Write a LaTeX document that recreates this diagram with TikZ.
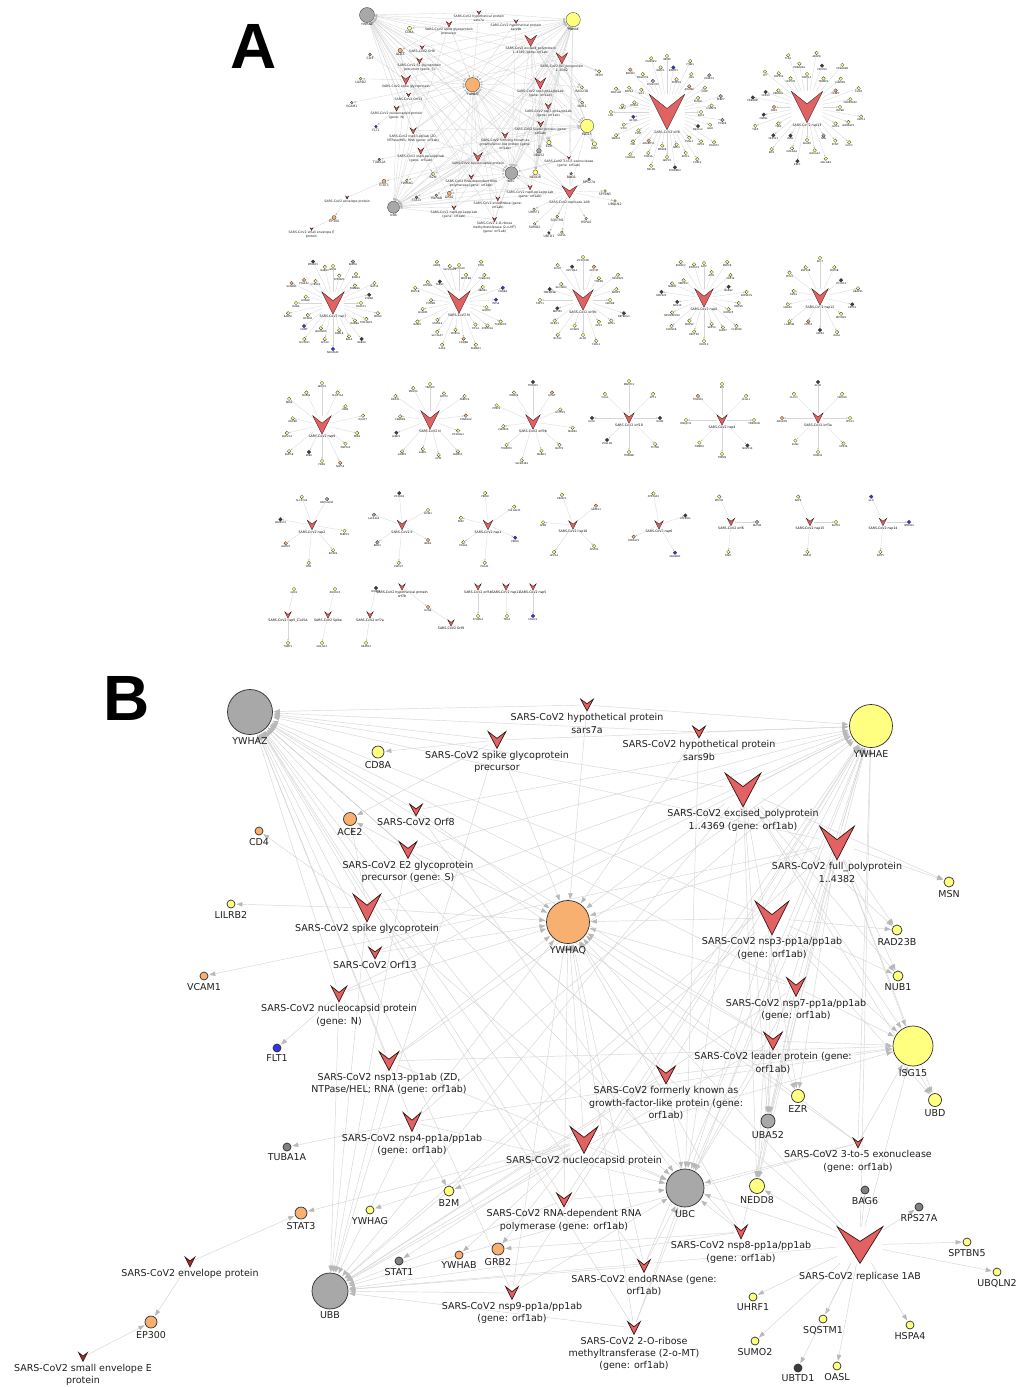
\documentclass[tikz,border=0pt]{standalone}
\usepackage{fontspec}
\setmainfont{DejaVu Sans}
\newfontfamily\letfont{Liberation Sans}
\usetikzlibrary{arrows.meta}
\pgfdeclarelayer{bgl}
\pgfdeclarelayer{edges}
\pgfsetlayers{bgl,edges,main}
\definecolor{vred}{HTML}{E06262}
\definecolor{vdred}{HTML}{B02828}
\definecolor{vline}{HTML}{3C1212}
\definecolor{nline}{HTML}{2E2E2E}
\definecolor{cy}{HTML}{FFFF80}
\definecolor{co}{HTML}{F8B070}
\definecolor{cg}{HTML}{A8A8A8}
\definecolor{cd}{HTML}{808080}
\definecolor{ck}{HTML}{3C3C3C}
\definecolor{cb}{HTML}{3333EE}
\definecolor{ecol}{HTML}{D6D6D6}
\definecolor{acol}{HTML}{B8B8B8}
\newcommand\lfont{\fontsize{9.5}{12.3}\selectfont}

\makeatletter
\pgfdeclareshape{vee}{%
  \inheritsavedanchors[from=rectangle]%
  \inheritanchorborder[from=rectangle]%
  \inheritanchor[from=rectangle]{center}%
  \inheritanchor[from=rectangle]{north}%
  \inheritanchor[from=rectangle]{south}%
  \inheritanchor[from=rectangle]{east}%
  \inheritanchor[from=rectangle]{west}%
  \inheritanchor[from=rectangle]{text}%
  \inheritanchor[from=rectangle]{base}%
  \inheritanchor[from=rectangle]{mid}%
  \backgroundpath{%
    \southwest \edef\veexa{\the\pgf@x}\edef\veeya{\the\pgf@y}%
    \northeast \edef\veexb{\the\pgf@x}\edef\veeyb{\the\pgf@y}%
    \pgfpathmoveto{\pgfpoint{\veexa}{\veeyb}}%
    \pgfpathlineto{\pgfpoint{0.5*(\veexa)+0.5*(\veexb)}{0.6*(\veeyb)+0.4*(\veeya)}}%
    \pgfpathlineto{\pgfpoint{\veexb}{\veeyb}}%
    \pgfpathlineto{\pgfpoint{0.5*(\veexa)+0.5*(\veexb)}{\veeya}}%
    \pgfpathclose}%
}
\makeatother

\tikzset{
  hum/.style={circle, draw=nline, line width=0.7pt, inner sep=0pt},
  vir/.style={shape=vee, draw=vline, line width=0.7pt, inner sep=0pt},
  lb/.style={font=\lfont, inner sep=1pt, label distance=1.5pt, align=center, text=black!88},
  lnk/.style={draw=ecol, line width=0.45pt, -{Triangle[length=6pt,width=4.4pt,color=acol]}, shorten >=1pt},
  cv/.style={shape=vee, fill=vred, draw=vline, line width=0.35pt, inner sep=0pt},
  clb/.style={font=\fontsize{3.2}{3.8}\selectfont, inner sep=0.3pt, label distance=0.5pt, align=center},
  satn/.style={circle, draw=nline, line width=0.25pt, inner sep=0pt, minimum size=3.6pt},
  slb/.style={font=\fontsize{2.5}{3}\selectfont, inner sep=0.2pt, label distance=0.2pt},
  slnk/.style={draw=ecol, line width=0.3pt, -{Triangle[length=1.6pt,width=1.2pt,color=acol]}},
}

% human node: name, x, y, diameter, colour, label
\newcommand\hn[6]{\node[hum,fill=#5,minimum size=#4pt,label={[lb]below:#6}] (#1) at (#2,#3) {};}
% viral node: name, x, y, width, height, colour, label
\newcommand\vn[7]{\node[vir,fill=#6,minimum width=#4pt,minimum height=#5pt,label={[lb]below:{#7}}] (#1) at (#2,#3) {};}

\newcommand\netB{%
\hn{YWHAZ}{250}{712}{45}{cg}{YWHAZ}
\hn{YWHAE}{871}{726}{43}{cy}{YWHAE}
\hn{YWHAQ}{568}{922}{43}{co}{YWHAQ}
\hn{ISG15}{913}{1046}{40}{cy}{ISG15}
\hn{UBC}{685}{1188}{38}{cg}{UBC}
\hn{UBB}{330}{1291}{36}{cg}{UBB}
\hn{CD8A}{378}{752}{12}{cy}{CD8A}
\hn{ACE2}{350}{819}{13}{co}{ACE2}
\hn{CD4}{259}{831}{8}{co}{CD4}
\hn{MSN}{949}{882}{10}{cy}{MSN}
\hn{LILRB2}{231}{904}{8}{cy}{LILRB2}
\hn{VCAM1}{204}{976}{8}{co}{VCAM1}
\hn{FLT1}{277}{1048}{8}{cb}{FLT1}
\hn{RAD23B}{897}{930}{10}{cy}{RAD23B}
\hn{NUB1}{898}{976}{10}{cy}{NUB1}
\hn{EZR}{798}{1096}{13}{cy}{EZR}
\hn{UBD}{935}{1100}{13}{cy}{UBD}
\hn{TUBA1A}{287}{1147}{8}{cd}{TUBA1A}
\hn{B2M}{449}{1191}{10}{cy}{B2M}
\hn{STAT3}{301}{1213}{12}{co}{STAT3}
\hn{YWHAG}{370}{1210}{8}{cy}{YWHAG}
\hn{STAT1}{399}{1261}{8}{cd}{STAT1}
\hn{YWHAB}{459}{1255}{8}{co}{YWHAB}
\hn{GRB2}{498}{1249}{12}{co}{GRB2}
\hn{EP300}{151}{1322}{12}{co}{EP300}
\hn{UBA52}{768}{1121}{14}{cg}{UBA52}
\hn{NEDD8}{757}{1186}{15}{cy}{NEDD8}
\hn{BAG6}{865}{1190}{8}{cd}{BAG6}
\hn{RPS27A}{919}{1207}{8}{cd}{RPS27A}
\hn{SPTBN5}{967}{1242}{8}{cy}{SPTBN5}
\hn{UBQLN2}{997}{1272}{8}{cy}{UBQLN2}
\hn{UHRF1}{753}{1297}{8}{cy}{UHRF1}
\hn{SQSTM1}{823}{1319}{8}{cy}{SQSTM1}
\hn{HSPA4}{910}{1325}{8}{cy}{HSPA4}
\hn{SUMO2}{755}{1341}{8}{cy}{SUMO2}
\hn{UBTD1}{798}{1368}{8}{ck}{UBTD1}
\hn{OASL}{837}{1366}{8}{cy}{OASL}
%
\vn{v7a}{587}{705}{12}{11}{vred}{SARS-CoV2 hypothetical protein\\sars7a}
\vn{v9b}{699}{732}{12}{11}{vred}{SARS-CoV2 hypothetical protein\\sars9b}
\vn{vspp}{497}{740}{17}{16}{vred}{SARS-CoV2 spike glycoprotein\\precursor}
\vn{vorf8}{416}{810}{12}{11}{vred}{SARS-CoV2 Orf8}
\vn{ve2}{408}{850}{17}{16}{vred}{SARS-CoV2 E2 glycoprotein\\precursor (gene: S)}
\vn{vexc}{743}{790}{35}{33}{vred}{SARS-CoV2 excised\_polyprotein\\1..4369 (gene: orf1ab)}
\vn{vfull}{837}{843}{34}{33}{vred}{SARS-CoV2 full\_polyprotein\\1..4382}
\vn{vspike}{367}{908}{27}{27}{vred}{SARS-CoV2 spike glycoprotein}
\vn{vnsp3}{772}{918}{33}{33}{vred}{SARS-CoV2 nsp3-pp1a/pp1ab\\(gene: orf1ab)}
\vn{vorf13}{375}{953}{12}{11}{vred}{SARS-CoV2 Orf13}
\vn{vnN}{339}{994}{15}{15}{vred}{SARS-CoV2 nucleocapsid protein\\(gene: N)}
\vn{vnsp7}{796}{987}{18}{18}{vred}{SARS-CoV2 nsp7-pp1a/pp1ab\\(gene: orf1ab)}
\vn{vlead}{773}{1041}{18}{17}{vred}{SARS-CoV2 leader protein (gene:\\orf1ab)}
\vn{vnsp13}{389}{1061}{19}{18}{vred}{SARS-CoV2 nsp13-pp1ab (ZD,\\NTPase/HEL; RNA (gene: orf1ab)}
\vn{vform}{666}{1075}{18}{17}{vred}{SARS-CoV2 formerly known as\\growth-factor-like protein (gene:\\orf1ab)}
\vn{vnsp4}{412}{1122}{17}{18}{vred}{SARS-CoV2 nsp4-pp1a/pp1ab\\(gene: orf1ab)}
\vn{vnuc}{584}{1140}{27}{26}{vred}{SARS-CoV2 nucleocapsid protein}
\vn{vexo}{858}{1143}{9}{9}{vred}{SARS-CoV2 3-to-5 exonuclease\\(gene: orf1ab)}
\vn{vrdrp}{564}{1200}{14}{13}{vred}{SARS-CoV2 RNA-dependent RNA\\polymerase (gene: orf1ab)}
\vn{vnsp8}{741}{1232}{12}{13}{vred}{SARS-CoV2 nsp8-pp1a/pp1ab\\(gene: orf1ab)}
\node[vir,fill=vred,minimum width=45pt,minimum height=36pt,label={[lb,label distance=8pt]below:SARS-CoV2 replicase 1AB}] (vrep) at (860,1245) {};
\vn{venv}{190}{1262}{9}{9}{vdred}{SARS-CoV2 envelope protein}
\vn{vendo}{644}{1266}{12}{12}{vred}{SARS-CoV2 endoRNAse (gene:\\orf1ab)}
\vn{vnsp9}{512}{1293}{12}{12}{vred}{SARS-CoV2 nsp9-pp1a/pp1ab\\(gene: orf1ab)}
\vn{vomt}{634}{1328}{12}{12}{vred}{SARS-CoV2 2-O-ribose\\methyltransferase (2-o-MT)\\(gene: orf1ab)}
\vn{vsenv}{83}{1357}{8}{8}{vdred}{SARS-CoV2 small envelope E\\protein}
%
\begin{pgfonlayer}{edges}
\foreach \sr in {vexc,vfull,vnsp3,vnsp7,vlead,vform,vnsp13,vnsp4,vnuc,vexo,vrdrp,vnsp8,vrep,vendo,vnsp9,vomt}
  \foreach \tg in {YWHAZ,YWHAE,YWHAQ,UBC,UBB} {\draw[lnk] (\sr) -- (\tg);}
\foreach \sr in {vexc,vfull,vnsp3,vnsp7,vlead,vform,vnuc,vexo,vrep,vnsp13,vnsp4}
  {\draw[lnk] (\sr) -- (ISG15);}
\foreach \sr in {v7a,v9b,vspp,vorf8,ve2,vspike,vorf13,vnN}
  \foreach \tg in {YWHAZ,YWHAE,YWHAQ} {\draw[lnk] (\sr) -- (\tg);}
\foreach \sr/\tg in {v9b/UBC, vspp/UBB, vorf8/UBC, ve2/UBB, vspike/UBC, vspike/UBB, vnN/UBB,
  vspp/CD8A, vspp/ACE2, ve2/ACE2, vspike/ACE2, vspike/LILRB2, vspike/CD4,
  vfull/VCAM1, vnN/FLT1, vnsp4/TUBA1A, vnsp4/B2M, vnuc/STAT3, vnuc/YWHAG, vnuc/B2M, vnuc/STAT1,
  vnuc/YWHAB, vnuc/GRB2, vnsp8/GRB2, venv/STAT3, venv/EP300, vsenv/EP300,
  vexc/MSN, vexc/RAD23B, vexc/NUB1, vexc/EZR, vexc/UBD, vexc/UBA52, vexc/NEDD8,
  vfull/MSN, vfull/RAD23B, vfull/NUB1, vfull/EZR, vfull/UBD, vfull/UBA52, vfull/NEDD8,
  vnsp3/RAD23B, vnsp3/NUB1, vnsp3/UBD, vnsp3/UBA52, vnsp3/NEDD8, vnsp7/UBA52, vnsp7/NEDD8,
  vlead/UBA52, vlead/NEDD8, vlead/EZR, vrep/NEDD8, vrep/BAG6, vrep/RPS27A, vrep/SPTBN5,
  vrep/UBQLN2, vrep/UHRF1, vrep/SQSTM1, vrep/HSPA4, vrep/SUMO2, vrep/UBTD1, vrep/OASL}
  {\draw[lnk] (\sr) -- (\tg);}
\end{pgfonlayer}
}

% small clusters of panel A
\newcommand\cen[5]{\node[cv,minimum width=#4pt,minimum height=#4pt,label={[clb]below:{#5}}] (#1) at (#2,#3) {};}
\newcommand\sat[6]{% centre, angle, radius, colour letter, label, id
  \node[satn,fill=c#4,label={[slb]below:#5}] (#1-#6) at ([shift={({#3*cos(#2)},{-#3*sin(#2)})}]#1.center) {};
  \draw[slnk] (#1) -- (#1-#6);}
\newcommand\satxy[6]{% centre, id, colour letter, x, y, label
  \node[satn,fill=c#3,label={[slb]below:#6}] (#1-#2) at (#4,#5) {};
  \draw[slnk] (#1) -- (#1-#2);}
\newcommand\starc[5]{% centre, r0, dr, start angle, list
  \foreach \g/\gcol [count=\i] in {#5} {\xdef\nsat{\i}}
  \foreach \g/\gcol [count=\i] in {#5} {%
    \pgfmathsetmacro\ang{#4+360*\i/\nsat}%
    \pgfmathsetmacro\rad{#2+#3*mod(\i,3)}%
    \sat{#1}{\ang}{\rad}{\gcol}{\g}{\i}}}

\begin{document}
\begin{tikzpicture}[x=1pt,y=-1pt]
\useasboundingbox (0,0) rectangle (1017,1387);
\begin{pgfonlayer}{bgl}\fill[white] (0,0) rectangle (1017,1387);\end{pgfonlayer}

% panel letters
\node[font=\letfont\bfseries\fontsize{64}{64}\selectfont, inner sep=0pt, anchor=base] (LA) at (254,68) {A};
\node[font=\letfont\bfseries\fontsize{64}{64}\selectfont, inner sep=0pt, anchor=base] (LB) at (127,720) {B};

% panel A: main component (same network, reduced)
\begin{scope}[name prefix=A-, xshift=284pt, yshift=221.4pt, scale=0.332,
  every node/.append style={transform shape},
  hum/.append style={line width=0.3pt}, vir/.append style={line width=0.3pt},
  lnk/.style={draw=ecol, line width=0.3pt, -{Triangle[length=2.2pt,width=1.6pt,color=acol]}, shorten >=0.5pt}]
\netB
\end{scope}

% panel A: other components
\cen{corf8}{667}{112}{35}{SARS-CoV2 orf8}
\starc{corf8}{34}{11}{90}{NGLY1/y,PLEKHF2/y,POGLUT3/g,POGLUT2/y,EDEM3/o,SIL1/y,ERP44/y,ERO1LB/y,HYOU1/y,SDF2/y,LOX/y,IL17RA/b,STC2/y,SMOC1/y,PLAT/y,PVR/y,COL6A1/y,ADAMTS1/o,TOR1A/y,FBLN5/y,MFGE8/y,GDF15/y,FOXRED2/k,NEU1/y,EMC1/y,CHPF2/y,PUSL1/y,NPC2/y,HS2ST1/y,FBXL12/k,GGH/y,PCSK6/g,PLD3/y,HS6ST2/y,FKBP7/g,PLOD2/y,CHPF/y,ERLEC1/g,ADAM9/o,OS9/y,ITGB1/y,FKBP10/y,DNMT1/b,INHBE/y}
\cen{cnsp13}{807}{107}{31}{SARS-CoV2 nsp13}
\starc{cnsp13}{33}{11}{90}{PRKAR2A/y,TLE1/y,CEP135/y,CEP350/y,CIT/y,PRKACA/y,CEP43/k,PDE4DIP/k,TBK1/o,CNTRL/k,TLE5/y,TLE3/y,CEP112/k,RDX/y,NINL/k,GOLGA2/y,ERC1/k,AKAP9/y,GOLGA3/y,GOLGB1/y,NIN/g,PCNT/y,GCC2/y,GCC1/y,GORASP1/y,USP13/y,CEP68/y,CDK5RAP2/y,CLIP4/y,CENPF/o,JAKMIP1/y,PRKAR2B/y,TBKBP1/y,CEP250/k,AKAP8/y,MIPOL1/y}

\cen{cnsp7}{333}{303}{22}{SARS-CoV2 nsp7}
\starc{cnsp7}{28}{9}{90}{RAB10/y,MTARC1/k,CYB5R3/y,PTGES2/o,SCARB1/o,LMAN2/y,RHOA/y,RAB5C/y,DCAKD/y,COMT/b,SCCPDH/y,SELENOS/y,ACSL3/y,NDUFAF2/b,RAB18/y,RALA/y,RAB2A/k,RAB8A/y,TOR1AIP1/y,MOGS/y,HS2ST1/y,CYB5B/k,NAT14/y,FAM98A/y,RAB14/y,RAB7A/g,ATP6AP1/y,GNB1/y}
\cen{cM}{459}{302}{22}{SARS-CoV2 M}
\starc{cM}{28}{9}{90}{SLC25A21/y,ANO6/y,TARS2/k,ATP1B1/y,PMPCB/y,PITRM1/y,ACADM/y,BZW2/y,STOML2/y,SLC30A7/y,AASS/y,PMPCA/y,COQ8B/o,FAM8A1/y,YIF1A/y,ATP6V1A/y,TUBGCP3/y,GHITM/y,INTS4/b,COQ8A/b,RBM41/y,TUBGCP2/y,ETFA/y,NDUFB9/y,SLC30A9/y}
\cen{corf9c}{583}{300}{20}{SARS-CoV2 orf9c}
\starc{corf9c}{27}{8}{90}{DPY19L1/k,ECSIT/y,SLC30A9/y,TMEM39B/k,TAPT1/y,NDFIP2/k,NLRX1/y,BCS1L/y,ACAD9/y,ALG5/y,F2RL1/y,GPX1/y,WFS1/y,RETREG3/k,UBXN8/y,ERMP1/y,NDUFAF1/y,TMED5/y,GHITM/o,ZC3H12B/y}
\cen{cnsp8}{704}{298}{18}{SARS-CoV2 nsp8}
\starc{cnsp8}{27}{8}{90}{EXOSC3/y,EXOSC2/y,MRPS27/y,NGDN/y,MRPS25/k,NOL10/k,MPHOSPH10/y,EXOSC8/y,MRPS2/y,HECTD1/y,DDX10/y,SRP54/y,LARP7/y,CCDC86/y,EXOSC5/y,MRPS5/y,SEPSECS/y,NARS2/k,SRP19/y,MEPCE/y,ATE1/y,AATF/y}
\cen{cnsp12}{820}{297}{16}{SARS-CoV2 nsp12}
\starc{cnsp12}{27}{6}{90}{ZNF318/y,PPIL3/y,RIPK1/y,UBAP2/y,LARP4B/y,CRTC3/o,USP54/k,RALA/y,MYCBP2/y,CRTC2/k,UBAP2L/y,ZC3H7A/k,PDE4B/y,SLU7/y}

\cen{cnsp9}{322}{425}{18}{SARS-CoV2 nsp9}
\starc{cnsp9}{30}{6}{90}{NUP62/y,NEK9/y,NUP88/y,NUP214/y,NUP58/y,MIB1/k,FBN1/y,NUP54/o,ZNF503/y,FBN2/y,DCAF7/y,MIB2/y,SLC27A4/y,GDF15/y}
\cen{cN}{430}{420}{18}{SARS-CoV2 N}
\starc{cN}{30}{6}{90}{MOV10/y,DDX21/y,CSNK2B/y,G3BP1/k,G3BP2/y,LARP1/y,UPF1/y,PABPC1/y,ZC3HAV1/y,CSNK2A2/o,PABPC4/y,SRP72/y,TRIM25/y}
\cen{corf9b}{533}{422}{14}{SARS-CoV2 orf9b}
\starc{corf9b}{30}{5}{90}{MARK2/y,PTBP2/y,CHMP2A/y,TOMM70/y,SLC9A3R1/y,MARK3/y,NUTF2/y,MARK1/y,DCTPP1/y,ECSIT/o,TIMM10/k}
\cen{corf10}{629}{418}{10}{SARS-CoV2 orf10}
\starc{corf10}{31}{3}{90}{CUL2/y,ELOC/k,ZYG11B/k,TIMM8B/y,THTPA/y,ELOB/k,PPT1/y,MAP7D1/y}
\cen{cnsp4}{722}{420}{10}{SARS-CoV2 nsp4}
\starc{cnsp4}{32}{2}{90}{TIMM29/o,DNAJC11/y,TIMM10/y,TIMM9/y,NUP210/k,TIMM10B/y,ALG11/y,IDE/y}
\cen{corf3a}{818}{418}{10}{SARS-CoV2 orf3a}
\starc{corf3a}{32}{2}{90}{CLCC1/y,ARL6IP6/o,SUN2/y,HMOX1/y,VPS39/y,VPS11/y,TRIM59/y,ALG5/k}

\cen{cnsp2}{312}{525}{9}{SARS-CoV2 nsp2}
\sat{cnsp2}{110}{30}{y}{SLC27A2}{1}\sat{cnsp2}{60}{30}{g}{RAP1GDS1}{2}\sat{cnsp2}{170}{32}{k}{WASHC4}{3}
\sat{cnsp2}{-10}{33}{y}{FKBP15}{4}\sat{cnsp2}{215}{32}{o}{GIGYF2}{5}\sat{cnsp2}{-50}{33}{y}{EIF4E2}{6}\sat{cnsp2}{265}{38}{y}{POR}{7}
\cen{cE}{402}{525}{9}{SARS-CoV2 E}
\sat{cE}{95}{32}{k}{ZC3H18}{1}\sat{cE}{30}{30}{y}{AP3B1}{2}\sat{cE}{160}{30}{g}{SLC44A2}{3}
\sat{cE}{-30}{30}{o}{BRD4}{4}\sat{cE}{215}{30}{g}{BRD2}{5}\sat{cE}{265}{38}{y}{CWC27}{6}
\cen{cnsp1}{488}{525}{9}{SARS-CoV2 nsp1}
\sat{cnsp1}{95}{32}{y}{PRIM2}{1}\sat{cnsp1}{35}{32}{y}{COLGALT1}{2}\sat{cnsp1}{165}{28}{y}{PKP2}{3}
\sat{cnsp1}{-25}{30}{b}{PRIM1}{4}\sat{cnsp1}{215}{30}{y}{POLA2}{5}\sat{cnsp1}{265}{38}{y}{POLA1}{6}
\cen{cnsp10}{573}{525}{8}{SARS-CoV2 nsp10}
\sat{cnsp10}{110}{32}{y}{ERGIC1}{1}\sat{cnsp10}{40}{30}{o}{GRPEL1}{2}\sat{cnsp10}{175}{30}{y}{GFER}{3}
\sat{cnsp10}{235}{33}{y}{AP2A2}{4}\sat{cnsp10}{-45}{30}{y}{AP2M1}{5}
\cen{cnsp6}{659}{525}{8}{SARS-CoV2 nsp6}
\sat{cnsp6}{100}{32}{y}{ATP13A3}{1}\sat{cnsp6}{20}{28}{k}{ATP5MG}{2}\sat{cnsp6}{205}{28}{o}{ATP6AP1}{3}\sat{cnsp6}{-60}{32}{b}{SIGMAR1}{4}
\cen{corf6}{731}{522}{7}{SARS-CoV2 orf6}
\sat{corf6}{115}{28}{y}{MTCH1}{1}\sat{corf6}{0}{26}{g}{NUP98}{2}\sat{corf6}{265}{30}{y}{RAE1}{3}
\cen{cnsp15}{810}{522}{7}{SARS-CoV2 nsp15}
\sat{cnsp15}{115}{28}{y}{ARF6}{1}\sat{cnsp15}{0}{26}{y}{NUTF2}{2}\sat{cnsp15}{265}{30}{y}{RNF41}{3}
\cen{cnsp14}{883}{522}{7}{SARS-CoV2 nsp14}
\sat{cnsp14}{115}{28}{b}{GLA}{1}\sat{cnsp14}{0}{26}{b}{IMPDH2}{2}\sat{cnsp14}{265}{30}{y}{SIRT5}{3}

\cen{r51}{288}{615}{6}{SARS-CoV2 nsp5\_C145A}
\satxy{r51}{1}{y}{294}{589}{GPX1}\satxy{r51}{2}{y}{288}{643}{TRMT1}
\cen{rsp}{328}{615}{6}{SARS-CoV2 Spike}
\satxy{rsp}{1}{y}{335}{589}{ZDHHC5}\satxy{rsp}{2}{y}{322}{643}{GOLGA7}
\cen{r7a}{370}{615}{6}{SARS-CoV2 orf7a}
\satxy{r7a}{1}{k}{376}{588}{HMOX1}\satxy{r7a}{2}{y}{366}{643}{HEATR3}
\cen{r7b}{402}{587}{6}{SARS-CoV2 hypothetical protein\\orf7b}
\satxy{r7b}{1}{o}{428}{607}{HCN4}
\cen{r9}{451}{623}{6}{SARS-CoV2 Orf9}
\draw[slnk] (r9) -- (r7b-1);
\cen{r3b}{478}{587}{6}{SARS-CoV2 orf3b}
\satxy{r3b}{1}{y}{478}{616}{STOML2}
\cen{r11}{506}{587}{6}{SARS-CoV2 nsp11}
\satxy{r11}{1}{y}{507}{616}{TBCA}
\cen{r5}{533}{587}{6}{SARS-CoV2 nsp5}
\satxy{r5}{1}{b}{533}{616}{HDAC2}

% panel B
\netB
\end{tikzpicture}
\end{document}
